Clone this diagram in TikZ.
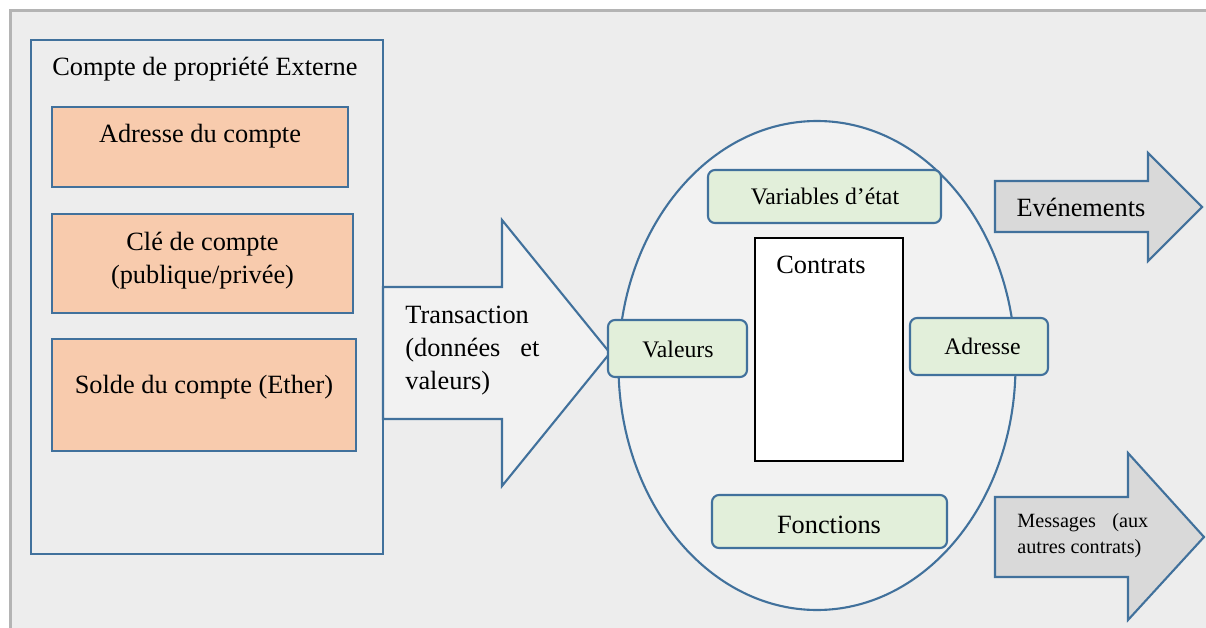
\documentclass[tikz,border=0pt]{standalone}
\usepackage{fontspec}
\setmainfont{Liberation Serif}
\usetikzlibrary{calc}
\definecolor{bleucadre}{HTML}{41719C}
\definecolor{fondgris}{HTML}{EDEDED}
\definecolor{traitgris}{HTML}{B4B4B4}
\definecolor{saumon}{HTML}{F8CBAD}
\definecolor{vertpale}{HTML}{E2EFDA}
\definecolor{grisclair}{HTML}{F2F2F2}
\definecolor{grisfleche}{HTML}{D9D9D9}
\tikzset{
	bleu/.style={draw=bleucadre, line width=1.2pt, line join=miter},
	boiteorange/.style={bleu, fill=saumon},
	boiteverte/.style={bleu, fill=vertpale, rounded corners=4pt},
	texte/.style={anchor=base, inner sep=0pt, font=\fontsize{15}{18.7}\selectfont},
	petit/.style={texte, font=\fontsize{13.5}{16}\selectfont},
}

\begin{document}
\begin{tikzpicture}[x=0.02cm, y=-0.02cm]
			%%%%% START %%%%%
			\useasboundingbox (0, 0) rectangle (1206, 628);
			\fill[fondgris] (10, 10) rectangle (1206, 628);
			\draw[traitgris, line width=1.4pt] (10.5, 628) -- (10.5, 10.5) -- (1206, 10.5);
			
			% compte externe
			\draw[bleu, fill=fondgris] (31, 40) rectangle (383, 554);
			\node[texte, anchor=base west] (titre) at (52, 76) {Compte de propriété Externe};
			
			\draw[boiteorange] (52, 107) rectangle (348, 187);
			\node[texte] (adrcompte) at (200, 143) {Adresse du compte};
			
			\draw[boiteorange] (52, 214) rectangle (353, 313);
			\node[texte, align=center] (cle) at (202.5, 283) {Clé de compte\\(publique/privée)};
			
			\draw[boiteorange] (52, 339) rectangle (356, 451);
			\node[texte] (solde) at (204, 393) {Solde du compte (Ether)};
			
			% transaction
			\draw[bleu, fill=grisclair] (383, 287) -- (502, 287) -- (502, 220) -- (610, 353) -- (502, 486) -- (502, 419) -- (383, 419) -- cycle;
			\node[texte, anchor=base west, align=left] (transaction) at (405, 389) {Transaction\\\makebox[2.68cm][s]{(données et}\\valeurs)};
			
			% contrat
			\draw[bleu, fill=grisclair] (817, 365.5) ellipse [x radius=198.5, y radius=244.5];
			
			\draw[boiteverte] (708, 170) rectangle (941, 223);
			\node[petit] (variables) at (825, 205) {Variables d’état};
			
			\draw[black, line width=0.6pt, fill=white] (755, 238) rectangle (903, 461);
			\node[texte] (contrats) at (821, 273) {Contrats};
			
			\draw[boiteverte] (608, 320) rectangle (747, 377);
			\node[petit] (valeurs) at (678, 357) {Valeurs};
			
			\draw[boiteverte] (910, 318) rectangle (1048, 375);
			\node[petit] (adresse) at (982.5, 354) {Adresse};
			
			\draw[boiteverte] (712, 495) rectangle (947, 548);
			\node[texte] (fonctions) at (829, 533) {Fonctions};
			
			% sorties
			\draw[bleu, fill=grisfleche] (995, 181) -- (1148, 181) -- (1148, 153) -- (1202, 207) -- (1148, 261) -- (1148, 232) -- (995, 232) -- cycle;
			\node[texte] (evenements) at (1081, 216) {Evénements};
			
			\draw[bleu, fill=grisfleche] (995, 497) -- (1128, 497) -- (1128, 453) -- (1204, 537) -- (1128, 620) -- (1128, 577) -- (995, 577) -- cycle;
			\node[texte, anchor=base west, align=left, font=\fontsize{11.5}{14.7}\selectfont] (messages) at (1017, 553) {\makebox[2.62cm][s]{Messages (aux}\\autres contrats)};
			%%%%% END %%%%%
\end{tikzpicture}
\end{document}
